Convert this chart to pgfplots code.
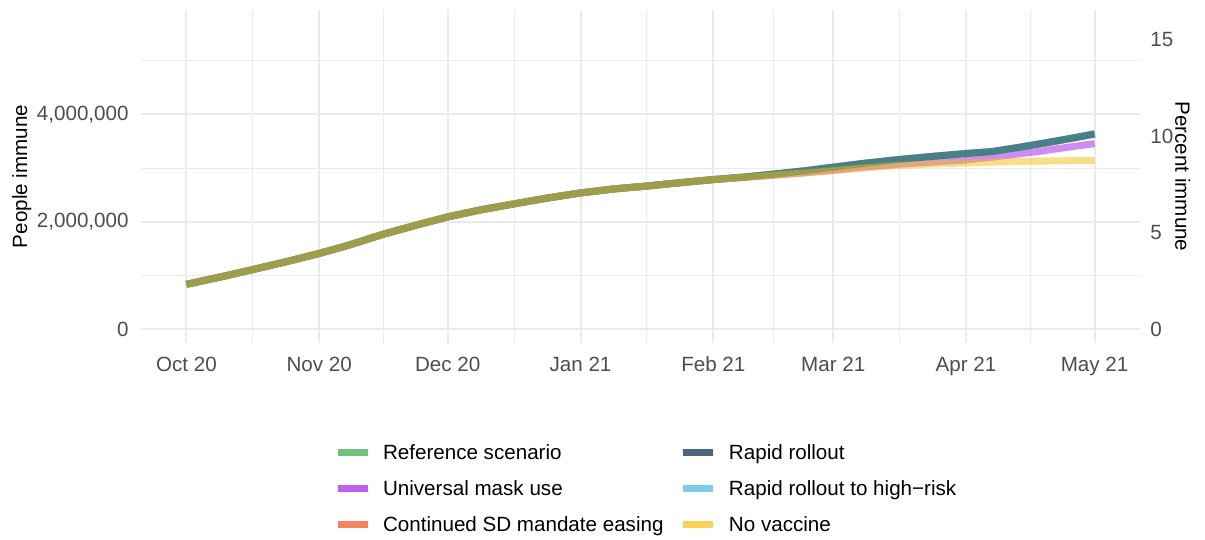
\documentclass[border=0pt]{standalone}
\usepackage{pgfplots}
\pgfplotsset{compat=1.18}
\usepackage{pgfplotstable}
\usepackage{fontspec}
\setmainfont{Liberation Sans}

\definecolor{gridc}{RGB}{235,235,235}
\definecolor{ticklab}{RGB}{77,77,77}
% legend (full) colours
\definecolor{leggreen}{RGB}{114,194,122}
\definecolor{legpurple}{RGB}{190,94,242}
\definecolor{legsalmon}{RGB}{243,132,95}
\definecolor{legdark}{RGB}{77,102,126}
\definecolor{leglightblue}{RGB}{125,204,232}
\definecolor{legyellow}{RGB}{250,210,87}
% line colours (drawn with transparency)
\definecolor{lnpurple}{RGB}{161,25,235}
\definecolor{lndark}{RGB}{63,121,129}
\definecolor{lnyellow}{RGB}{245,189,15}

% days since 1 Oct 2020, people immune
\pgfplotstableread{
day val
0 832000
8 970000
15 1098000
23 1248000
31 1408000
38 1565000
46 1767000
54 1943000
61 2089000
69 2225000
77 2339000
84 2437000
92 2536000
100 2612000
107 2660000
115 2724000
123 2785000
130 2830000
137 2885000
144 2945000
151 3015000
158 3085000
166 3155000
174 3215000
182 3270000
188 3305000
194 3380000
200 3460000
206 3545000
212 3635000
}\toptable

\pgfplotstableread{
day val
0 832000
8 970000
15 1098000
23 1248000
31 1408000
38 1565000
46 1767000
54 1943000
61 2089000
69 2225000
77 2339000
84 2437000
92 2536000
100 2612000
107 2660000
115 2724000
123 2785000
130 2825000
137 2865000
144 2910000
151 2960000
158 3015000
166 3070000
174 3110000
182 3150000
188 3200000
194 3260000
200 3320000
206 3390000
212 3455000
}\masktable

\pgfplotstableread{
day val
0 832000
8 970000
15 1098000
23 1248000
31 1408000
38 1565000
46 1767000
54 1943000
61 2089000
69 2225000
77 2339000
84 2437000
92 2536000
100 2612000
107 2660000
115 2724000
123 2785000
130 2825000
137 2865000
144 2905000
151 2950000
158 3000000
166 3045000
174 3075000
182 3095000
188 3110000
194 3120000
200 3130000
206 3136000
212 3140000
}\novaxtable

\newcommand{\fs}{\fontsize{10.3}{12}\selectfont}

\begin{document}
\begin{tikzpicture}
\useasboundingbox (0,0) rectangle (602.5pt,270pt);
\begin{axis}[
  at={(70.5pt,98.5pt)}, anchor=south west,
  scale only axis, width=499.5pt, height=166.5pt,
  xmin=-10.6, xmax=222.6, ymin=-261000, ymax=5945000,
  axis line style={draw=none},
  major tick length=0pt, minor tick length=0pt,
  xtick={0,31,61,92,123,151,182,212},
  xticklabels={Oct 20,Nov 20,Dec 20,Jan 21,Feb 21,Mar 21,Apr 21,May 21},
  minor xtick={15.5,46,76.5,107.5,137,166.5,197},
  ytick={0,2000000,4000000},
  yticklabels={0,{2,000,000},{4,000,000}},
  minor ytick={1000000,3000000,5000000},
  scaled y ticks=false, scaled x ticks=false,
  grid=both,
  major grid style={draw=gridc, line width=1pt},
  minor grid style={draw=gridc, line width=0.5pt},
  tick label style={font=\fs, text=ticklab, inner sep=0pt},
  xticklabel style={anchor=north, yshift=-6.5pt, text height=7.4pt, text depth=2pt},
  yticklabel style={anchor=east, xshift=-6pt},
  every axis y label/.style={at={(axis description cs:-0.1294,0.5)}, rotate=90, anchor=north, inner sep=0pt, font=\fs},
  ylabel={People immune},
  every axis plot/.append style={mark=none, line width=3.5pt, line join=round, line cap=butt},
  legend columns=2,
  legend cell align=left,
  legend style={at={(axis description cs:0.1932,-0.3045)}, anchor=north west,
    draw=none, fill=none, inner sep=0pt, outer sep=0pt, font=\fs,
    row sep=8.3pt, column sep=0pt,
    nodes={inner sep=0pt, text height=7.5pt, text depth=2.2pt},
    /tikz/every odd column/.append style={column sep=6pt},
    /tikz/every even column/.append style={column sep=8.2pt}},
  legend image code/.code={\draw[#1, line width=3.5pt, opacity=1] (0pt,1pt) -- (15pt,1pt);},
]
\addplot[forget plot, draw=lnpurple, draw opacity=0.5] table[x=day,y=val] {\masktable};
\addplot[forget plot, draw=leggreen, draw opacity=0.72] table[x=day,y=val] {\toptable};
\addplot[forget plot, draw=legsalmon, draw opacity=0.72] table[x=day,y=val] {\toptable};
\addplot[forget plot, draw=leglightblue, draw opacity=0.72] table[x=day,y=val] {\toptable};
\addplot[forget plot, draw=lndark, draw opacity=0.9] table[x=day,y=val] {\toptable};
\addplot[forget plot, draw=lnyellow, draw opacity=0.5] table[x=day,y=val] {\novaxtable};

\addlegendimage{draw=leggreen}
\addlegendentry{Reference scenario}
\addlegendimage{draw=legdark}
\addlegendentry{Rapid rollout}
\addlegendimage{draw=legpurple}
\addlegendentry{Universal mask use}
\addlegendimage{draw=leglightblue}
\addlegendentry{Rapid rollout to high−risk}
\addlegendimage{draw=legsalmon}
\addlegendentry{Continued SD mandate easing}
\addlegendimage{draw=legyellow}
\addlegendentry{No vaccine}
\end{axis}

\begin{axis}[
  at={(70.5pt,98.5pt)}, anchor=south west,
  scale only axis, width=499.5pt, height=166.5pt,
  xmin=-10.6, xmax=222.6, ymin=-0.7268, ymax=16.555,
  hide x axis,
  axis line style={draw=none},
  major tick length=0pt, minor tick length=0pt,
  ytick={0,5,10,15},
  yticklabels={0,5,10,15},
  yticklabel pos=right,
  yticklabel style={anchor=west, xshift=5pt, inner sep=0pt, font=\fs, text=ticklab},
  every axis y label/.style={at={(axis description cs:1.0508,0.5)}, rotate=-90, anchor=north, inner sep=0pt, font=\fs},
  ylabel={Percent immune},
]
\end{axis}
\end{tikzpicture}
\end{document}
